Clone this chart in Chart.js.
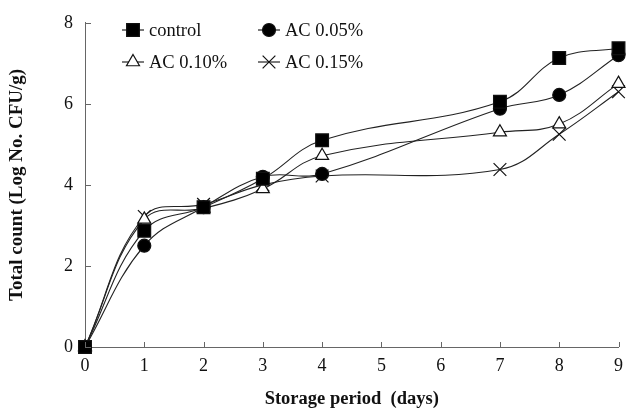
<!DOCTYPE html>
<html>
<head>
<meta charset="utf-8">
<script src="https://cdn.jsdelivr.net/npm/chart.js@4/dist/chart.umd.min.js"></script>
<style>
  html, body { margin: 0; padding: 0; background: #fff; }
  #wrap { width: 631px; height: 410px; }
</style>
</head>
<body>
<div id="wrap"><canvas id="chart"></canvas></div>
<script>
const days = [0, 1, 2, 3, 4, 7, 8, 9];
const control = [0, 2.87, 3.45, 4.15, 5.1, 6.05, 7.13, 7.37];
const ac005 = [0, 2.5, 3.45, 4.2, 4.27, 5.88, 6.22, 7.2];
const ac010 = [0, 3.15, 3.42, 3.9, 4.72, 5.3, 5.5, 6.5];
const ac015 = [0, 3.22, 3.52, 4.0, 4.22, 4.38, 5.25, 6.3];
const xTicks = [0, 1, 2, 3, 4, 5, 6, 7, 8, 9];
const yTicks = [0, 2, 4, 6, 8];

const serif = '"Liberation Serif", "Times New Roman", serif';

function pts(vals) {
    return days.map((d, i) => ({ x: d, y: vals[i] }));
}

function series(label, vals, style, radius, fill) {
    return {
        label: label,
        data: pts(vals),
        borderColor: '#222',
        borderWidth: 1.1,
        tension: 0.4,
        pointStyle: style,
        pointRadius: radius,
        pointHoverRadius: radius,
        pointBackgroundColor: fill,
        pointBorderColor: '#111',
        pointBorderWidth: 1.2,
        clip: false
    };
}

// short inward tick marks on both axes
const insideTicks = {
    id: 'insideTicks',
    afterDraw(chart) {
        const ctx = chart.ctx;
        const xs = chart.scales.x, ys = chart.scales.y;
        ctx.save();
        ctx.strokeStyle = '#666';
        ctx.lineWidth = 1;
        ctx.beginPath();
        xTicks.forEach(v => {
            const px = Math.round(xs.getPixelForValue(v)) + 0.5;
            ctx.moveTo(px, ys.bottom);
            ctx.lineTo(px, ys.bottom - 5);
        });
        yTicks.forEach(v => {
            const py = Math.round(ys.getPixelForValue(v)) + 0.5;
            ctx.moveTo(xs.left, py);
            ctx.lineTo(xs.left + 6, py);
        });
        ctx.stroke();
        ctx.restore();
    }
};

// legend drawn inside the plot, two rows
const innerLegend = {
    id: 'innerLegend',
    afterDraw(chart) {
        const ctx = chart.ctx;
        const spots = [[133, 30], [269, 30], [133, 62], [269, 62]];
        ctx.save();
        chart.data.datasets.forEach((ds, i) => {
            const [cx, cy] = spots[i];
            ctx.strokeStyle = '#222';
            ctx.lineWidth = 1.2;
            ctx.beginPath();
            ctx.moveTo(cx - 11, cy);
            ctx.lineTo(cx + 11, cy);
            ctx.stroke();
            ctx.fillStyle = ds.pointBackgroundColor;
            ctx.strokeStyle = '#111';
            Chart.helpers.drawPoint(ctx, {
                pointStyle: ds.pointStyle,
                radius: ds.pointRadius,
                rotation: 0,
                borderWidth: 1.2
            }, cx, cy);
            ctx.fillStyle = '#111';
            ctx.font = '18.5px ' + serif;
            ctx.textBaseline = 'middle';
            ctx.fillText(ds.label, cx + 16, cy + 1);
        });
        ctx.restore();
    }
};

new Chart(document.getElementById('chart'), {
    type: 'line',
    data: {
        datasets: [
            series('control', control, 'rect', 9, '#000'),
            series('AC 0.05%', ac005, 'circle', 6.5, '#000'),
            series('AC 0.10%', ac010, 'triangle', 7.5, '#fff'),
            series('AC 0.15%', ac015, 'crossRot', 9, '#fff')
        ]
    },
    options: {
        responsive: true,
        maintainAspectRatio: false,
        animation: false,
        layout: { padding: { top: 15, right: 9, left: 2, bottom: 0 } },
        plugins: {
            legend: { display: false },
            tooltip: { enabled: false }
        },
        scales: {
            x: {
                type: 'linear',
                min: 0,
                max: 9,
                afterBuildTicks: s => { s.ticks = xTicks.map(v => ({ value: v })); },
                afterFit: s => { s.height = 63; },
                grid: { display: false, drawTicks: false },
                border: { display: true, color: '#666', width: 1 },
                ticks: {
                    color: '#111',
                    padding: 8,
                    font: { family: serif, size: 18 }
                },
                title: {
                    display: true,
                    text: 'Storage period  (days)',
                    color: '#111',
                    padding: { top: 4, bottom: 0 },
                    font: { family: serif, size: 18.5, weight: 'bold' }
                }
            },
            y: {
                min: 0,
                max: 8,
                afterBuildTicks: s => { s.ticks = yTicks.map(v => ({ value: v })); },
                afterFit: s => { s.width = 83; },
                grid: { display: false, drawTicks: false },
                border: { display: true, color: '#666', width: 1 },
                ticks: {
                    color: '#111',
                    padding: 12,
                    font: { family: serif, size: 18 }
                },
                title: {
                    display: true,
                    text: 'Total count (Log No. CFU/g)',
                    color: '#111',
                    padding: { bottom: 10 },
                    font: { family: serif, size: 19, weight: 'bold' }
                }
            }
        }
    },
    plugins: [insideTicks, innerLegend]
});
</script>
</body>
</html>
